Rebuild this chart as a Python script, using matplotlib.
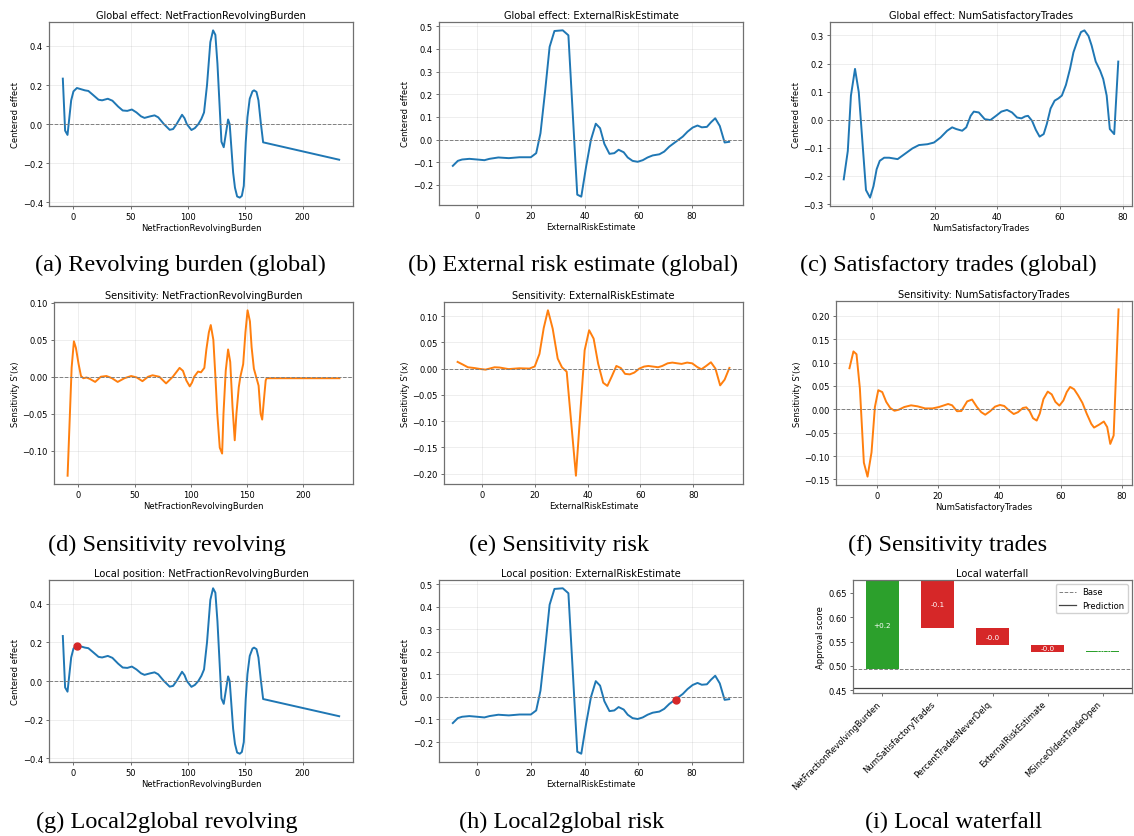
import matplotlib
matplotlib.use("Agg")
import matplotlib.pyplot as plt

# --- global effect: NetFractionRevolvingBurden ---
rev_x = [-9.3, -7.3, -5.2, -2.0, 0.0, 3.0, 10.0, 13.0, 17.0, 21.9, 25.0, 30.0, 34.0, 39.0,
         43.0, 47.0, 51.0, 55.0, 59.0, 62.0, 67.0, 70.8, 74.0, 79.0, 84.0, 87.0, 90.0, 94.8,
         97.0, 99.0, 103.0, 106.0, 109.0, 111.7, 114.0, 116.6, 119.5, 121.9, 123.9, 125.7,
         129.2, 131.2, 135.0, 136.4, 139.4, 141.0, 142.9, 145.2, 147.0, 148.7, 150.4, 151.9,
         153.9, 156.3, 157.7, 159.8, 161.5, 163.5, 165.6, 232.0]
rev_y = [0.233, -0.033, -0.055, 0.122, 0.168, 0.185, 0.173, 0.170, 0.150, 0.125, 0.122, 0.130,
         0.120, 0.090, 0.070, 0.068, 0.075, 0.060, 0.040, 0.032, 0.040, 0.045, 0.035, 0.000,
         -0.029, -0.025, 0.000, 0.048, 0.030, 0.000, -0.030, -0.020, 0.000, 0.027, 0.060,
         0.200, 0.420, 0.480, 0.457, 0.310, -0.090, -0.118, 0.024, 0.000, -0.247, -0.325,
         -0.370, -0.376, -0.367, -0.316, -0.093, 0.036, 0.130, 0.168, 0.173, 0.165, 0.122,
         0.010, -0.093, -0.182]

# --- global effect: ExternalRiskEstimate ---
ext_x = [-9.06, -7.2, -5.6, -2.9, 0.0, 2.7, 4.6, 7.9, 11.8, 15.8, 20.0, 22.0, 23.6, 25.3, 27.0,
         28.8, 31.9, 34.0, 37.3, 38.8, 40.6, 42.4, 44.2, 45.8, 47.4, 49.3, 51.1, 52.7, 54.6,
         56.1, 57.9, 59.8, 61.7, 63.5, 65.4, 67.9, 69.7, 71.6, 74.1, 76.6, 78.4, 80.3, 82.1,
         83.7, 85.6, 87.1, 88.7, 90.4, 92.2, 93.9]
ext_y = [-0.116, -0.094, -0.088, -0.085, -0.088, -0.091, -0.085, -0.079, -0.082, -0.078, -0.078,
         -0.060, 0.028, 0.211, 0.409, 0.479, 0.482, 0.460, -0.243, -0.252, -0.119, -0.001,
         0.070, 0.050, -0.019, -0.063, -0.060, -0.045, -0.056, -0.079, -0.094, -0.098, -0.091,
         -0.079, -0.070, -0.065, -0.053, -0.031, -0.009, 0.013, 0.035, 0.053, 0.062, 0.054,
         0.056, 0.076, 0.094, 0.060, -0.013, -0.010]

# --- global effect: NumSatisfactoryTrades ---
sat_x = [-9.0, -7.7, -6.7, -5.4, -4.2, -1.9, -0.6, 0.5, 1.5, 2.5, 3.9, 5.5, 8.2, 10.8, 12.9,
         15.0, 17.7, 19.8, 21.9, 24.0, 25.6, 26.9, 28.8, 30.1, 31.5, 32.5, 34.1, 36.0, 37.8,
         39.6, 41.3, 43.1, 44.7, 46.3, 47.7, 48.9, 49.8, 51.1, 52.3, 53.5, 54.8, 55.8, 57.0,
         58.3, 59.5, 60.6, 61.9, 63.2, 64.3, 65.6, 66.7, 67.8, 69.1, 70.1, 71.4, 72.8, 73.8,
         74.9, 75.9, 77.3, 78.6]
sat_y = [-0.212, -0.111, 0.086, 0.181, 0.098, -0.250, -0.277, -0.236, -0.176, -0.146, -0.135,
         -0.135, -0.140, -0.119, -0.102, -0.090, -0.087, -0.081, -0.063, -0.039, -0.027, -0.033,
         -0.039, -0.027, 0.014, 0.029, 0.026, 0.002, -0.001, 0.014, 0.029, 0.035, 0.026, 0.008,
         0.005, 0.012, 0.014, -0.004, -0.036, -0.060, -0.051, -0.015, 0.040, 0.068, 0.076,
         0.086, 0.124, 0.181, 0.240, 0.282, 0.312, 0.318, 0.298, 0.264, 0.207, 0.175, 0.145,
         0.086, -0.033, -0.051, 0.207]

# --- sensitivity: NetFractionRevolvingBurden ---
srev_x = [-9.5, -5.9, -3.9, -2.1, 0.3, 2.4, 4.5, 7.4, 10.4, 15.0, 20.0, 25.0, 30.0, 35.0, 41.0,
          47.0, 52.0, 57.0, 62.0, 66.0, 72.0, 78.0, 84.0, 90.0, 93.0, 96.0, 99.0, 101.0, 103.0,
          106.4, 109.0, 112.0, 113.8, 116.0, 117.7, 120.0, 121.8, 123.5, 125.7, 127.8, 129.0,
          131.0, 133.1, 135.0, 137.0, 139.0, 140.5, 142.6, 144.0, 146.5, 148.5, 150.4, 152.5,
          154.0, 156.0, 158.0, 160.2, 162.0, 163.4, 165.0, 166.5, 167.3, 232.0]
srev_y = [-0.134, 0.0125, 0.048, 0.039, 0.017, 0.001, -0.002, -0.001, -0.003, -0.007, 0.000,
          0.001, -0.002, -0.007, -0.002, 0.001, -0.001, -0.006, 0.000, 0.002, 0.000, -0.009,
          0.000, 0.012, 0.008, -0.005, -0.013, -0.008, 0.000, 0.007, 0.006, 0.012, 0.037, 0.060,
          0.070, 0.050, 0.001, -0.050, -0.096, -0.104, -0.050, 0.008, 0.037, 0.020, -0.040,
          -0.086, -0.050, -0.014, 0.000, 0.017, 0.060, 0.090, 0.075, 0.040, 0.011, 0.000,
          -0.012, -0.050, -0.058, -0.030, -0.005, -0.002, -0.002]

# --- sensitivity: ExternalRiskEstimate ---
sext_x = [-9.2, -7.2, -5.3, -2.8, -0.9, 1.4, 2.9, 4.8, 6.7, 10.1, 14.2, 18.0, 20.0, 21.8, 23.4,
          25.0, 26.8, 28.7, 30.3, 32.1, 35.6, 38.9, 40.6, 42.3, 44.0, 45.9, 47.5, 49.2, 50.9,
          52.6, 54.2, 56.0, 57.7, 59.6, 61.4, 63.0, 64.8, 66.7, 68.3, 70.3, 72.1, 74.0, 75.6,
          77.7, 79.6, 81.5, 83.1, 84.9, 86.7, 88.4, 90.2, 91.9, 93.7]
sext_y = [0.0127, 0.0076, 0.0025, 0.001, -0.0006, -0.002, 0.000, 0.0025, 0.002, -0.001, 0.0006,
          0.000, 0.004, 0.028, 0.077, 0.111, 0.076, 0.019, 0.0025, -0.006, -0.204, 0.035, 0.073,
          0.057, 0.0095, -0.027, -0.033, -0.0146, 0.005, 0.001, -0.0101, -0.011, -0.0076, 0.000,
          0.0038, 0.005, 0.0038, 0.0025, 0.005, 0.010, 0.0114, 0.010, 0.0089, 0.0114, 0.010,
          0.003, -0.0013, 0.005, 0.012, 0.000, -0.032, -0.021, 0.0013]

# --- sensitivity: NumSatisfactoryTrades ---
ssat_x = [-8.9, -7.6, -6.6, -5.5, -4.2, -3.0, -1.7, -0.6, 0.5, 1.8, 3.1, 4.4, 5.8, 7.2, 9.0,
          11.2, 13.3, 15.8, 18.2, 20.3, 23.3, 24.6, 26.2, 27.6, 29.5, 31.1, 32.7, 34.1, 35.4,
          37.0, 38.6, 40.2, 41.6, 43.1, 44.7, 46.1, 47.7, 48.8, 49.9, 51.0, 52.2, 53.2, 54.4,
          55.8, 57.1, 58.3, 59.6, 60.9, 62.0, 63.1, 64.4, 65.7, 67.1, 68.5, 70.0, 70.9, 72.5,
          74.1, 75.2, 76.2, 77.3, 78.9]
ssat_y = [0.088, 0.124, 0.118, 0.045, -0.114, -0.144, -0.092, 0.005, 0.041, 0.037, 0.016, 0.003,
          -0.003, -0.0007, 0.005, 0.0086, 0.0065, 0.002, 0.002, 0.005, 0.0115, 0.0086, -0.004,
          -0.0036, 0.017, 0.021, 0.005, -0.006, -0.0115, -0.004, 0.0058, 0.0094, 0.0072, -0.002,
          -0.010, -0.006, 0.003, 0.0043, -0.004, -0.019, -0.024, -0.009, 0.022, 0.038, 0.032,
          0.016, 0.008, 0.019, 0.037, 0.048, 0.043, 0.030, 0.014, -0.009, -0.031, -0.039,
          -0.033, -0.026, -0.038, -0.074, -0.056, 0.214]

# local positions of the instance
rev_point = (3.0, 0.182)
ext_point = (74.0, -0.013)

# --- local waterfall ---
wf_features = ["NetFractionRevolvingBurden", "NumSatisfactoryTrades", "PercentTradesNeverDelq",
               "ExternalRiskEstimate", "MSinceOldestTradeOpen"]
wf_contrib = [0.183, -0.099, -0.034, -0.014, 0.001]
wf_base = 0.493
wf_pred = 0.455

captions = ["(a) Revolving burden (global)", "(b) External risk estimate (global)",
            "(c) Satisfactory trades (global)", "(d) Sensitivity revolving", "(e) Sensitivity risk",
            "(f) Sensitivity trades", "(g) Local2global revolving", "(h) Local2global risk",
            "(i) Local waterfall"]
caption_pos = [(180, 265), (573, 265), (948, 265), (167, 545), (559, 545), (948, 545),
               (167, 822), (562, 822), (954, 822)]

W, H = 1134, 837
BLUE = "#1f77b4"
ORANGE = "#ff7f0e"
TS, LS = 7.1, 6.0

fig = plt.figure(figsize=(W / 100, H / 100), dpi=100)


def make_ax(left, top, right, bottom):
    ax = fig.add_axes([left / W, 1 - bottom / H, (right - left) / W, (bottom - top) / H])
    for sp in ax.spines.values():
        sp.set_color("#707070")
        sp.set_linewidth(0.9)
    ax.tick_params(labelsize=LS, length=2.5, width=0.6, color="#555555", pad=2)
    return ax


def line_panel(box, x, y, color, title, xlabel, ylabel, point=None):
    ax = make_ax(*box)
    ax.plot(x, y, color=color, lw=1.4)
    ax.axhline(0, color="gray", ls="--", lw=0.7)
    if point is not None:
        ax.plot([point[0]], [point[1]], "o", color="#d62728", ms=5, zorder=5)
    ax.grid(True, alpha=0.3, lw=0.5)
    ax.set_title(title, fontsize=TS, pad=3)
    ax.set_xlabel(xlabel, fontsize=LS, labelpad=1.5)
    ax.set_ylabel(ylabel, fontsize=LS, labelpad=2)
    return ax


line_panel((49, 23, 353, 207), rev_x, rev_y, BLUE, "Global effect: NetFractionRevolvingBurden",
           "NetFractionRevolvingBurden", "Centered effect")
line_panel((439, 23, 743, 206), ext_x, ext_y, BLUE, "Global effect: ExternalRiskEstimate",
           "ExternalRiskEstimate", "Centered effect")
line_panel((830, 23, 1132, 207), sat_x, sat_y, BLUE, "Global effect: NumSatisfactoryTrades",
           "NumSatisfactoryTrades", "Centered effect")

line_panel((54, 303, 353, 485), srev_x, srev_y, ORANGE, "Sensitivity: NetFractionRevolvingBurden",
           "NetFractionRevolvingBurden", "Sensitivity S'(x)")
line_panel((444, 303, 743, 485), sext_x, sext_y, ORANGE, "Sensitivity: ExternalRiskEstimate",
           "ExternalRiskEstimate", "Sensitivity S'(x)")
line_panel((836, 302, 1132, 486), ssat_x, ssat_y, ORANGE, "Sensitivity: NumSatisfactoryTrades",
           "NumSatisfactoryTrades", "Sensitivity S'(x)")

line_panel((49, 581, 353, 763), rev_x, rev_y, BLUE, "Local position: NetFractionRevolvingBurden",
           "NetFractionRevolvingBurden", "Centered effect", point=rev_point)
line_panel((439, 581, 743, 763), ext_x, ext_y, BLUE, "Local position: ExternalRiskEstimate",
           "ExternalRiskEstimate", "Centered effect", point=ext_point)

# waterfall
ax = make_ax(853, 581, 1132, 694)
start = wf_base
for i, c in enumerate(wf_contrib):
    col = "#2ca02c" if c >= 0 else "#d62728"
    ax.bar(i, c, bottom=start, width=0.6, color=col)
    ax.text(i, start + c / 2, f"{c:+.1f}", ha="center", va="center", color="white", fontsize=5.2)
    start += c
ax.axhline(wf_base, color="gray", ls="--", lw=0.7, label="Base")
ax.axhline(wf_pred, color="#444444", ls="-", lw=0.9, label="Prediction")
ax.set_ylim(0.4446, 0.676)
ax.set_xticks(range(len(wf_features)))
ax.set_xticklabels(wf_features, rotation=45, ha="right", fontsize=LS)
ax.set_ylabel("Approval score", fontsize=LS, labelpad=2)
ax.set_title("Local waterfall", fontsize=TS, pad=3)
ax.legend(fontsize=LS, loc="upper right", framealpha=0.9, borderpad=0.4, handlelength=2)

for text, (cx, cy) in zip(captions, caption_pos):
    fig.text(cx / W, 1 - cy / H, text, ha="center", va="center", fontsize=17.5,
             family="Liberation Serif")

fig.savefig("out.png", dpi=100)
